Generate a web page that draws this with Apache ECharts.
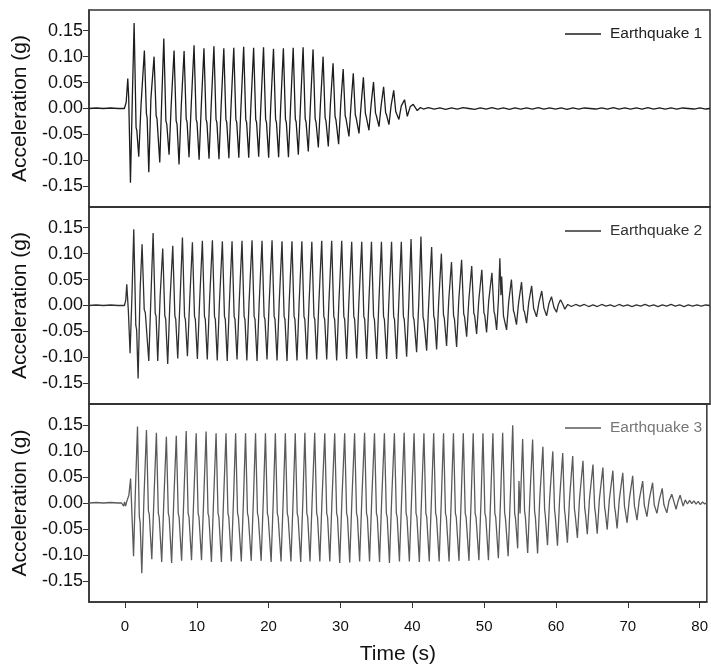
<!DOCTYPE html>
<html><head><meta charset="utf-8">
<script src="https://cdn.jsdelivr.net/npm/echarts@6/dist/echarts.min.js"></script>
<style>html,body{margin:0;padding:0;background:#fff}#c{width:711px;height:666px}</style>
</head><body><div id="c"></div>
<script>
const seriesNames = ['Earthquake 1', 'Earthquake 2', 'Earthquake 3'];
const xTicks = [0, 10, 20, 30, 40, 50, 60, 70, 80];
const yTicks = [-0.15, -0.1, -0.05, 0, 0.05, 0.1, 0.15];
const xTitle = 'Time (s)';
const yTitle = 'Acceleration (g)';

// [time (s), acceleration (g)]
const eq1 = [
[-5,0],[-4,0.001],[-3,0],[-2,0.001],[-1,0],[-0.1,0],
[0.15,0.012],[0.37,0.058],[0.5,0.02],[0.74,-0.143],[1.0,0.02],[1.25,0.165],
[1.52,-0.037],[1.62,-0.042],[1.89,-0.093],[2.2,0.005],
[2.67,0.112],[2.95,-0.01],[3.05,-0.018],[3.28,-0.123],[3.57,0.018],
[4.01,0.1],[4.3,-0.014],[4.42,-0.02],[4.8,-0.104],[5.07,0.015],
[5.36,0.135],[5.65,-0.024],[5.77,-0.03],[6.09,-0.089],[6.37,0.003],
[6.78,0.112],[7.07,-0.024],[7.19,-0.03],[7.47,-0.108],[7.78,0.005],
[8.17,0.111],[8.46,-0.02],[8.58,-0.026],[8.85,-0.094],[9.15,0.005],
[9.55,0.122],[9.84,-0.021],[9.96,-0.027],[10.25,-0.099],[10.55,0.005],
[10.92,0.116],[11.21,-0.021],[11.33,-0.027],[11.62,-0.097],[11.92,0.005],
[12.3,0.12],[12.59,-0.021],[12.71,-0.027],[13.0,-0.098],[13.3,0.005],
[13.67,0.116],[13.96,-0.021],[14.08,-0.027],[14.37,-0.096],[14.67,0.005],
[15.05,0.117],[15.34,-0.021],[15.46,-0.027],[15.75,-0.095],[16.05,0.005],
[16.42,0.119],[16.71,-0.021],[16.83,-0.027],[17.12,-0.095],[17.42,0.005],
[17.8,0.117],[18.09,-0.021],[18.21,-0.027],[18.5,-0.093],[18.8,0.005],
[19.17,0.118],[19.46,-0.021],[19.58,-0.027],[19.88,-0.095],[20.17,0.005],
[20.55,0.115],[20.84,-0.021],[20.96,-0.027],[21.26,-0.094],[21.55,0.005],
[21.92,0.116],[22.21,-0.021],[22.33,-0.027],[22.62,-0.094],[22.92,0.005],
[23.28,0.117],[23.57,-0.02],[23.69,-0.026],[23.99,-0.089],[24.29,0.006],
[24.65,0.118],[24.94,-0.02],[25.06,-0.026],[25.37,-0.083],[25.67,0.008],
[26.03,0.114],[26.32,-0.02],[26.44,-0.026],[26.76,-0.075],[27.06,0.01],
[27.42,0.1],[27.7,-0.018],[27.82,-0.024],[28.14,-0.073],[28.44,0.01],
[28.8,0.087],[29.08,-0.016],[29.2,-0.022],[29.57,-0.069],[29.87,0.01],
[30.2,0.076],[30.48,-0.014],[30.6,-0.02],[31.0,-0.054],[31.3,0.01],
[31.6,0.068],[31.88,-0.012],[32.0,-0.018],[32.39,-0.048],[32.69,0.008],
[33.0,0.06],[33.28,-0.01],[33.4,-0.016],[33.77,-0.042],[34.07,0.008],
[34.4,0.051],[34.68,-0.009],[34.8,-0.014],[35.16,-0.035],[35.46,0.006],
[35.8,0.042],[36.08,-0.008],[36.2,-0.012],[36.54,-0.031],[36.84,0.006],
[37.2,0.035],[37.48,-0.006],[37.6,-0.01],[37.92,-0.021],[38.25,0.005],
[38.7,0.017],[39.08,-0.015],[39.5,0.004],[39.9,0.008],[40.46,-0.004],[40.9,0.002],
[41.3,-0.001],[42.0,0.0015],[42.8,-0.001],[43.6,0.001],[44.4,-0.0015],[45.2,0.001],[46.0,-0.001],[46.8,0.0015],
[47.6,0],[48.4,-0.0015],[49.2,0.001],[50.0,-0.001],[50.8,0.0015],[51.6,-0.001],[52.4,0.001],[53.2,-0.0015],
[54.0,0.001],[54.8,-0.001],[55.6,0.001],[56.4,-0.001],[57.2,0.0015],[58.0,-0.001],[58.8,0.001],[59.6,-0.001],
[60.4,0.001],[61.2,-0.0015],[62.0,0.001],[62.8,-0.001],[63.6,0.001],[64.4,0],[65.2,-0.001],[66.0,0.001],
[66.8,-0.001],[67.6,0.0015],[68.4,-0.001],[69.2,0.001],[70.0,-0.001],[70.8,0.001],[71.6,-0.001],[72.4,0.0015],
[73.2,-0.001],[74.0,0.001],[74.8,-0.001],[75.6,0.001],[76.4,-0.001],[77.2,0.001],[78.0,0],[78.8,-0.001],
[79.6,0.001],[80.4,-0.001],[81,0]
];

const eq2 = [
[-5,0],[-4,0.001],[-3,0],[-2,0.001],[-1,0],[-0.1,0],
[0.09,0.01],[0.23,0.041],[0.45,-0.01],[0.69,-0.092],[0.95,0.02],[1.2,0.147],
[1.48,-0.038],[1.6,-0.047],[1.8,-0.141],[2.08,0.03],[2.35,0.118],
[2.65,-0.008],[2.8,-0.014],[3.28,-0.107],[3.57,0.014],[3.88,0.14],
[4.17,-0.015],[4.29,-0.021],[4.52,-0.107],[4.85,0.017],[5.21,0.11],
[5.5,-0.02],[5.62,-0.026],[5.9,-0.113],[6.2,0.005],[6.6,0.115],
[6.89,-0.02],[7.01,-0.026],[7.29,-0.102],[7.59,0.005],[7.94,0.131],
[8.23,-0.021],[8.35,-0.027],[8.63,-0.098],[8.93,0.005],[9.32,0.122],
[9.61,-0.021],[9.73,-0.027],[10.01,-0.103],[10.31,0.005],[10.7,0.125],
[10.99,-0.021],[11.11,-0.027],[11.38,-0.104],[11.68,0.005],[12.09,0.126],
[12.38,-0.021],[12.5,-0.027],[12.76,-0.106],[13.06,0.005],[13.47,0.124],
[13.76,-0.021],[13.88,-0.027],[14.14,-0.107],[14.44,0.005],[14.81,0.124],
[15.1,-0.021],[15.22,-0.027],[15.5,-0.104],[15.8,0.005],[16.19,0.125],
[16.48,-0.021],[16.6,-0.027],[16.86,-0.106],[17.16,0.005],[17.58,0.126],
[17.87,-0.021],[17.99,-0.027],[18.27,-0.107],[18.57,0.005],[18.96,0.125],
[19.25,-0.021],[19.37,-0.027],[19.65,-0.104],[19.95,0.005],[20.35,0.126],
[20.64,-0.021],[20.76,-0.027],[21.04,-0.106],[21.34,0.005],[21.73,0.124],
[22.02,-0.021],[22.14,-0.027],[22.42,-0.107],[22.72,0.005],[23.11,0.124],
[23.4,-0.021],[23.52,-0.027],[23.8,-0.106],[24.1,0.005],[24.48,0.124],
[24.77,-0.021],[24.89,-0.027],[25.17,-0.104],[25.47,0.005],[25.86,0.123],
[26.15,-0.021],[26.27,-0.027],[26.53,-0.104],[26.83,0.005],[27.23,0.125],
[27.52,-0.021],[27.64,-0.027],[27.92,-0.104],[28.22,0.005],[28.61,0.125],
[28.9,-0.021],[29.02,-0.027],[29.3,-0.106],[29.6,0.005],[30.0,0.125],
[30.29,-0.021],[30.41,-0.027],[30.68,-0.103],[30.98,0.005],[31.38,0.123],
[31.67,-0.021],[31.79,-0.027],[32.07,-0.102],[32.37,0.005],[32.77,0.123],
[33.06,-0.021],[33.18,-0.027],[33.45,-0.103],[33.75,0.005],[34.12,0.123],
[34.41,-0.021],[34.53,-0.027],[34.84,-0.103],[35.14,0.005],[35.5,0.123],
[35.79,-0.021],[35.91,-0.027],[36.22,-0.103],[36.52,0.005],[36.9,0.123],
[37.19,-0.021],[37.31,-0.027],[37.6,-0.103],[37.9,0.005],[38.25,0.123],
[38.54,-0.021],[38.66,-0.027],[38.99,-0.099],[39.29,0.005],[39.6,0.128],
[39.89,-0.021],[40.01,-0.028],[40.37,-0.09],[40.67,0.005],[40.97,0.133],
[41.26,-0.022],[41.38,-0.03],[41.76,-0.087],[42.06,0.008],[42.45,0.113],
[42.74,-0.02],[42.86,-0.027],[43.14,-0.085],[43.44,0.01],[43.8,0.1],
[44.09,-0.018],[44.21,-0.025],[44.52,-0.078],[44.82,0.01],[45.2,0.084],
[45.49,-0.02],[45.61,-0.026],[45.91,-0.08],[46.21,0.01],[46.6,0.088],
[46.89,-0.016],[47.01,-0.022],[47.3,-0.06],[47.6,0.01],[48.0,0.076],
[48.29,-0.015],[48.41,-0.02],[48.68,-0.055],[48.98,0.01],[49.4,0.069],
[49.69,-0.014],[49.81,-0.019],[50.06,-0.052],[50.36,0.01],[50.8,0.063],
[51.09,-0.012],[51.21,-0.018],[51.45,-0.047],[51.7,0.01],[51.9,0.091],[52.05,0.02],[52.15,0.056],[52.4,-0.02],
[52.83,-0.047],[53.13,0.008],[53.5,0.05],
[53.78,-0.01],[53.9,-0.015],[54.2,-0.037],[54.5,0.006],[54.9,0.045],
[55.18,-0.008],[55.3,-0.012],[55.6,-0.034],[55.9,0.006],[56.3,0.038],
[56.58,-0.006],[56.7,-0.01],[56.98,-0.022],[57.3,0.005],[57.7,0.028],
[58.0,-0.005],[58.37,-0.02],[58.7,0.004],[59.05,0.017],
[59.4,-0.004],[59.75,-0.013],[60.0,0.002],[60.3,0.011],[60.6,0.003],[60.9,-0.007],[61.3,0.002],
[61.8,-0.002],[62.4,0.002],[63.0,-0.001],[63.6,0.002],[64.2,-0.002],[64.8,0.001],[65.4,-0.002],[66.0,0.002],
[66.6,-0.001],[67.2,0.001],[67.8,-0.002],[68.4,0.002],[69.0,-0.001],[69.6,0.001],[70.2,-0.002],[70.8,0.001],
[71.4,-0.001],[72.0,0.002],[72.6,-0.001],[73.2,0.001],[73.8,-0.002],[74.4,0.001],[75.0,-0.001],[75.6,0.002],
[76.2,-0.001],[76.8,0.001],[77.4,-0.002],[78.0,0.001],[78.6,-0.001],[79.2,0.001],[79.8,-0.001],[80.4,0.001],[81,0]
];

const eq3 = [
[-5,0],[-4,0.001],[-3,0],[-2,0.001],[-1,0],[-0.46,0],[-0.3,0.002],[-0.18,-0.006],[-0.05,0.002],[0.09,-0.006],[0.28,0.004],
[0.55,0.015],[0.79,0.047],[1.2,-0.102],[1.45,0.02],[1.75,0.147],[2.0,-0.025],[2.12,-0.038],[2.35,-0.135],[2.65,0.01],
[3.0,0.14],[3.27,-0.015],[3.39,-0.022],[3.74,-0.108],[4.04,0.008],
[4.38,0.135],[4.65,-0.02],[4.77,-0.027],[5.12,-0.113],[5.42,0.005],
[5.77,0.127],[6.04,-0.02],[6.16,-0.027],[6.5,-0.115],[6.8,0.005],
[7.15,0.129],[7.42,-0.02],[7.54,-0.027],[7.89,-0.111],[8.19,0.005],
[8.53,0.138],[8.8,-0.02],[8.92,-0.027],[9.27,-0.11],[9.57,0.005],
[9.92,0.134],[10.19,-0.02],[10.31,-0.027],[10.66,-0.11],[10.96,0.005],
[11.3,0.137],[11.57,-0.02],[11.69,-0.027],[12.04,-0.113],[12.34,0.005],
[12.69,0.134],[12.96,-0.02],[13.08,-0.027],[13.43,-0.113],[13.73,0.005],
[14.07,0.134],[14.34,-0.02],[14.46,-0.027],[14.81,-0.112],[15.11,0.005],
[15.41,0.134],[15.68,-0.02],[15.8,-0.027],[16.2,-0.112],[16.5,0.005],
[16.79,0.134],[17.06,-0.02],[17.18,-0.027],[17.58,-0.111],[17.88,0.005],
[18.18,0.134],[18.45,-0.02],[18.57,-0.027],[18.96,-0.111],[19.26,0.005],
[19.56,0.134],[19.83,-0.02],[19.95,-0.027],[20.35,-0.113],[20.65,0.005],
[20.94,0.134],[21.21,-0.02],[21.33,-0.027],[21.73,-0.112],[22.03,0.005],
[22.33,0.134],[22.6,-0.02],[22.72,-0.027],[23.11,-0.112],[23.41,0.005],
[23.71,0.134],[23.98,-0.02],[24.1,-0.027],[24.47,-0.113],[24.77,0.005],
[25.05,0.135],[25.32,-0.02],[25.44,-0.027],[25.76,-0.112],[26.06,0.005],
[26.42,0.135],[26.69,-0.02],[26.81,-0.027],[27.13,-0.112],[27.43,0.005],
[27.82,0.134],[28.09,-0.02],[28.21,-0.027],[28.52,-0.112],[28.82,0.005],
[29.2,0.134],[29.47,-0.02],[29.59,-0.027],[29.9,-0.115],[30.2,0.005],
[30.59,0.134],[30.86,-0.02],[30.98,-0.027],[31.29,-0.114],[31.59,0.005],
[31.97,0.134],[32.24,-0.02],[32.36,-0.027],[32.67,-0.112],[32.97,0.005],
[33.36,0.135],[33.63,-0.02],[33.75,-0.027],[34.05,-0.112],[34.35,0.005],
[34.74,0.134],[35.01,-0.02],[35.13,-0.027],[35.44,-0.113],[35.74,0.005],
[36.12,0.134],[36.39,-0.02],[36.51,-0.027],[36.82,-0.115],[37.12,0.005],
[37.51,0.134],[37.78,-0.02],[37.9,-0.027],[38.21,-0.112],[38.51,0.005],
[38.87,0.135],[39.14,-0.02],[39.26,-0.027],[39.59,-0.112],[39.89,0.005],
[40.25,0.134],[40.52,-0.02],[40.64,-0.027],[40.98,-0.113],[41.28,0.005],
[41.62,0.134],[41.89,-0.02],[42.01,-0.027],[42.36,-0.112],[42.66,0.005],
[42.98,0.134],[43.25,-0.02],[43.37,-0.027],[43.74,-0.112],[44.04,0.005],
[44.35,0.134],[44.62,-0.02],[44.74,-0.027],[45.12,-0.112],[45.42,0.005],
[45.73,0.134],[46.0,-0.02],[46.12,-0.027],[46.5,-0.111],[46.8,0.005],
[47.1,0.134],[47.37,-0.02],[47.49,-0.027],[47.89,-0.111],[48.19,0.005],
[48.48,0.134],[48.75,-0.02],[48.87,-0.027],[49.27,-0.11],[49.57,0.005],
[49.84,0.134],[50.11,-0.02],[50.23,-0.027],[50.6,-0.11],[50.9,0.005],
[51.22,0.134],[51.49,-0.02],[51.61,-0.027],[51.98,-0.106],[52.28,0.005],
[52.58,0.135],[52.85,-0.018],[52.97,-0.03],[53.34,-0.102],[53.64,0.01],
[53.98,0.149],[54.25,-0.02],[54.37,-0.03],[54.67,-0.087],[54.85,0.042],[55.0,-0.02],
[55.36,0.123],[55.63,-0.015],[55.75,-0.028],[56.06,-0.096],[56.36,0.008],
[56.75,0.122],[57.02,-0.015],[57.14,-0.028],[57.44,-0.097],[57.74,0.008],
[58.18,0.108],[58.42,-0.012],[58.52,-0.025],[58.82,-0.081],[59.12,0.008],
[59.56,0.099],[59.8,-0.012],[59.9,-0.025],[60.21,-0.082],[60.51,0.008],
[60.94,0.096],[61.18,-0.012],[61.28,-0.024],[61.59,-0.076],[61.89,0.008],
[62.33,0.09],[62.57,-0.011],[62.67,-0.022],[62.98,-0.067],[63.28,0.008],
[63.76,0.081],[64.0,-0.01],[64.1,-0.02],[64.36,-0.06],[64.66,0.007],
[65.15,0.074],[65.39,-0.01],[65.49,-0.019],[65.74,-0.059],[66.04,0.007],
[66.53,0.068],[66.77,-0.009],[66.87,-0.017],[67.13,-0.051],[67.43,0.006],
[67.92,0.062],[68.16,-0.008],[68.26,-0.016],[68.51,-0.049],[68.81,0.006],
[69.3,0.058],[69.54,-0.007],[69.64,-0.014],[69.9,-0.038],[70.2,0.006],
[70.68,0.052],[70.92,-0.006],[71.02,-0.012],[71.28,-0.033],[71.58,0.005],
[72.07,0.042],[72.3,-0.005],[72.4,-0.01],[72.66,-0.026],[72.96,0.005],
[73.45,0.039],[73.68,-0.004],[73.78,-0.008],[74.05,-0.02],[74.35,0.004],
[74.79,0.028],[75.02,-0.003],[75.12,-0.007],[75.43,-0.019],[75.73,0.004],
[76.12,0.017],[76.72,-0.012],[77.0,0.004],[77.28,0.015],[77.7,-0.006],
[78.0,0.006],[78.3,-0.002],[78.6,0.005],[78.9,-0.001],[79.2,0.004],[79.5,-0.002],[79.8,0.003],[80.1,-0.003],
[80.4,0.002],[80.7,-0.002],[81,0.001]
];

const seriesData = [eq1, eq2, eq3];

// layout / style (kept apart from data)
const FONT = 'Arial, "Liberation Sans", Helvetica, sans-serif';
const lineColors = ['#1c1c1c', '#303030', '#5a5a5a'];
const legendColors = ['#222222', '#333333', '#777777'];
const panelTops = [10, 207, 404];
const panelHeights = [197, 197, 198];
const axisColor = '#333';

const chart = echarts.init(document.getElementById('c'), null, {renderer: 'canvas'});

const grids = panelTops.map((t, i) => ({
  left: 89, right: 1, top: t, height: panelHeights[i],
  show: true, borderColor: axisColor, borderWidth: 1.5, backgroundColor: 'transparent'
}));

const xAxes = panelTops.map((t, i) => {
  const last = i === panelTops.length - 1;
  return {
    type: 'value', gridIndex: i, min: -5, max: 81,
    axisLine: {show: true, onZero: false, lineStyle: {color: axisColor, width: 1.5}},
    axisTick: last ? {show: true, customValues: xTicks, length: 6, inside: false, lineStyle: {color: axisColor, width: 1}} : {show: false},
    axisLabel: last ? {show: true, customValues: xTicks, fontSize: 15, color: '#111', margin: 17, fontFamily: FONT} : {show: false},
    splitLine: {show: false},
    name: last ? xTitle : '',
    nameLocation: 'middle', nameGap: 42,
    nameTextStyle: {fontSize: 21, color: '#111', fontFamily: FONT}
  };
});

const yAxes = panelTops.map((t, i) => ({
  type: 'value', gridIndex: i, min: -0.19, max: 0.19,
  axisLine: {show: true, onZero: false, lineStyle: {color: axisColor, width: 1.5}},
  axisTick: {show: true, customValues: yTicks, length: 6, inside: false, lineStyle: {color: axisColor, width: 1}},
  axisLabel: {show: true, customValues: yTicks, fontSize: 18, color: '#111', margin: 6, fontFamily: FONT,
    formatter: v => (Math.abs(v) < 1e-9 ? 0 : v).toFixed(2)},
  splitLine: {show: false},
  name: yTitle, nameLocation: 'middle', nameGap: 50,
  nameTextStyle: {fontSize: 21, color: '#111', fontFamily: FONT}
}));

const legends = seriesNames.map((n, i) => ({
  data: [n], left: 565, top: panelTops[i] + 16, padding: 0,
  itemWidth: 36, itemHeight: 1.5, icon: 'rect', selectedMode: false,
  textStyle: {fontSize: 15.5, color: legendColors[i], fontFamily: FONT, padding: [0, 0, 0, 4]}
}));

const series = seriesNames.map((n, i) => ({
  name: n, type: 'line', xAxisIndex: i, yAxisIndex: i,
  data: seriesData[i], showSymbol: false, symbol: 'none',
  lineStyle: {color: lineColors[i], width: 1.3}, itemStyle: {color: lineColors[i]},
  clip: true, animation: false
}));

chart.setOption({
  animation: false,
  textStyle: {fontFamily: FONT},
  grid: grids, xAxis: xAxes, yAxis: yAxes, legend: legends, series: series
});
</script></body></html>
